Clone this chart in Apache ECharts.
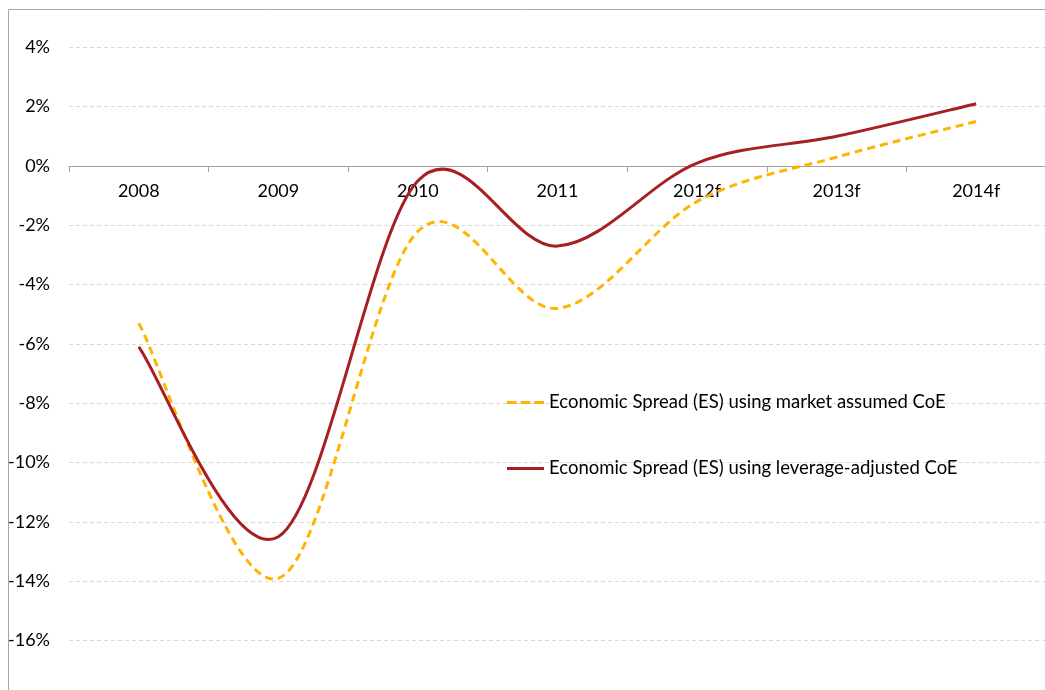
<!DOCTYPE html>
<html>
<head>
<meta charset="utf-8">
<title>Economic Spread</title>
<script src="https://cdn.jsdelivr.net/npm/echarts@6/dist/echarts.min.js"></script>
<style>
  html, body { margin: 0; padding: 0; background: #fff; }
  #chart { width: 1045px; height: 690px; }
</style>
</head>
<body>
<div id="chart"></div>
<script>
// Years on the category axis
const years = ['2008', '2009', '2010', '2011', '2012f', '2013f', '2014f'];

// Economic spread, in percent
const esMarketCoE = [-5.3, -13.9, -2.2, -4.8, -1.2, 0.3, 1.5];
const esLeverageCoE = [-6.1, -12.5, -0.5, -2.7, 0.1, 1.0, 2.1];

const seriesNames = [
  'Economic Spread (ES) using market assumed CoE',
  'Economic Spread (ES) using leverage-adjusted CoE'
];

// Value axis range and labelled span
const yMin = -18;
const yMax = 6;
const yStep = 2;
const yLabelMin = -16;
const yLabelMax = 4;

const FONT = 'Lato, "Open Sans", sans-serif';
const YELLOW = '#FFB400';
const RED = '#A61F24';

const GRID_TOP = -12;
const GRID_BOTTOM = -10;
const CHART_H = 690;

// Cardinal spline through the points (handles = 1/6 of the neighbour chord),
// returned as SVG path data.
function splinePath(pts) {
  let d = 'M' + pts[0][0] + ',' + pts[0][1];
  for (let i = 0; i < pts.length - 1; i++) {
    const p0 = pts[i - 1] || pts[i];
    const p1 = pts[i];
    const p2 = pts[i + 1];
    const p3 = pts[i + 2] || pts[i + 1];
    const c1x = p1[0] + (p2[0] - p0[0]) / 6;
    const c1y = p1[1] + (p2[1] - p0[1]) / 6;
    const c2x = p2[0] - (p3[0] - p1[0]) / 6;
    const c2y = p2[1] - (p3[1] - p1[1]) / 6;
    d += ' C' + c1x + ',' + c1y + ' ' + c2x + ',' + c2y + ' ' + p2[0] + ',' + p2[1];
  }
  return d;
}

function smoothLineSeries(name, values, color, dash) {
  return {
    name: name,
    type: 'custom',
    data: values.map(function (v, i) { return [i, v]; }),
    encode: { x: 0, y: 1 },
    itemStyle: { color: color },
    clip: false,
    renderItem: function (params, api) {
      if (params.dataIndex !== 0) return null;
      const pts = values.map(function (v, i) { return api.coord([i, v]); });
      return {
        type: 'path',
        shape: { pathData: splinePath(pts) },
        style: {
          fill: 'none',
          stroke: color,
          lineWidth: 3,
          lineDash: dash,
          lineCap: 'butt',
          lineJoin: 'round'
        }
      };
    }
  };
}

// Distance from the bottom of the plot up to the zero line
const plotH = CHART_H - GRID_TOP - GRID_BOTTOM;
const zeroOffset = -plotH * (0 - yMin) / (yMax - yMin);

const chart = echarts.init(document.getElementById('chart'), null, { renderer: 'canvas' });

chart.setOption({
  backgroundColor: '#ffffff',
  animation: false,
  textStyle: { fontFamily: FONT },
  graphic: [
    { type: 'line', shape: { x1: 8.5, y1: 9.5, x2: 1045, y2: 9.5 }, style: { stroke: '#a6a6a6', lineWidth: 1 }, z: 100 },
    { type: 'line', shape: { x1: 8.5, y1: 9.5, x2: 8.5, y2: 690 }, style: { stroke: '#a6a6a6', lineWidth: 1 }, z: 100 }
  ],
  legend: {
    orient: 'vertical',
    left: 502,
    top: 388,
    itemWidth: 37,
    itemHeight: 3,
    itemGap: 47,
    textStyle: { fontFamily: FONT, fontSize: 18.5, color: '#000' },
    data: [
      { name: seriesNames[0], icon: 'path://M0,0h10v3h-10z M14,0h10v3h-10z M28,0h10v3h-10z' },
      { name: seriesNames[1], icon: 'path://M0,0h38v3h-38z' }
    ]
  },
  grid: {
    left: 69,
    right: -1,
    top: GRID_TOP,
    bottom: GRID_BOTTOM,
    containLabel: false,
    outerBoundsMode: 'none'
  },
  xAxis: {
    type: 'category',
    data: years,
    boundaryGap: true,
    offset: zeroOffset,
    axisLine: { onZero: false, lineStyle: { color: '#a0a0a0', width: 1 } },
    axisTick: { show: true, length: 6, alignWithLabel: false, lineStyle: { color: '#a0a0a0' } },
    axisLabel: { fontFamily: FONT, fontSize: 18, color: '#000', margin: 16 },
    splitLine: { show: false }
  },
  yAxis: {
    type: 'value',
    min: yMin,
    max: yMax,
    interval: yStep,
    axisLine: { show: false },
    axisTick: { show: false },
    axisLabel: {
      fontFamily: FONT,
      fontSize: 18,
      color: '#000',
      margin: 19,
      formatter: function (v) {
        return (v < yLabelMin || v > yLabelMax) ? '' : v + '%';
      }
    },
    splitLine: { show: true, lineStyle: { color: '#d9d9d9', type: [4, 3], width: 1 } }
  },
  series: [
    smoothLineSeries(seriesNames[0], esMarketCoE, YELLOW, [8, 5]),
    smoothLineSeries(seriesNames[1], esLeverageCoE, RED, null)
  ]
});
</script>
</body>
</html>
